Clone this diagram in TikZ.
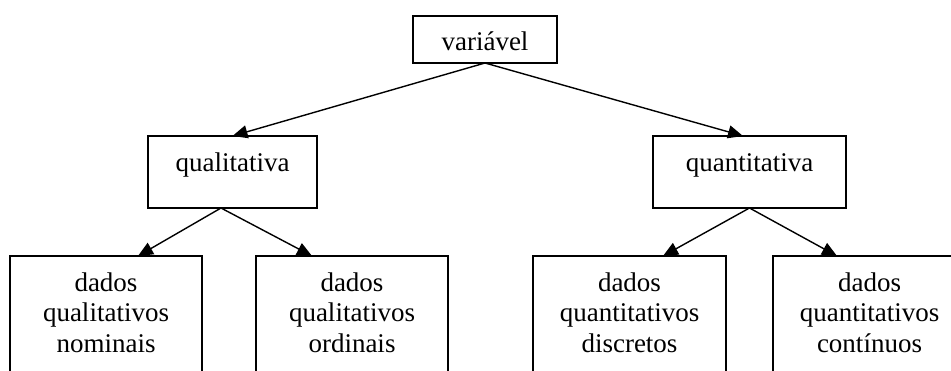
\documentclass[tikz,border=0pt]{standalone}
\usepackage{fontspec}
\setmainfont{Liberation Serif}
\usetikzlibrary{arrows.meta,calc}
\begin{document}
\begin{tikzpicture}[x=1pt,y=-1pt,
  box/.style={draw, line width=1.6pt, inner sep=0pt, outer sep=0pt, anchor=north west,
    align=center, font=\fontsize{27}{31}\selectfont},
  leaf/.style={box, text height=97pt, text depth=100pt},
  conn/.style={line width=1.4pt, -{Triangle[length=15pt,width=13pt]}}]
\useasboundingbox (0,0) rectangle (951,371);
\node[box, minimum width=144pt, text height=35pt, text depth=12pt] (var) at (413,16) {variável};
\node[box, minimum width=169pt, text height=36pt, text depth=36pt] (qual) at (148,136) {qualitativa};
\node[box, minimum width=193pt, text height=36pt, text depth=36pt] (quant) at (653,136) {quantitativa};
\node[leaf, minimum width=192pt] (b1) at (10,256) {dados\\qualitativos\\nominais};
\node[leaf, minimum width=192pt] (b2) at (256,256) {dados\\qualitativos\\ordinais};
\node[leaf, minimum width=193pt] (b3) at (533,256) {dados\\quantitativos\\discretos};
\node[leaf, minimum width=193pt] (b4) at (773,256) {dados\\quantitativos\\contínuos};
\draw[conn] (var.south) -- (qual.north);
\draw[conn] (var.south) -- ($(quant.north west)+(90,0)$);
\draw[conn] ($(qual.south west)+(73,0)$) -- ($(b1.north west)+(128,0)$);
\draw[conn] ($(qual.south west)+(73,0)$) -- ($(b2.north west)+(56,0)$);
\draw[conn] (quant.south) -- ($(b3.north west)+(130,0)$);
\draw[conn] (quant.south) -- ($(b4.north west)+(64,0)$);
\end{tikzpicture}
\end{document}
